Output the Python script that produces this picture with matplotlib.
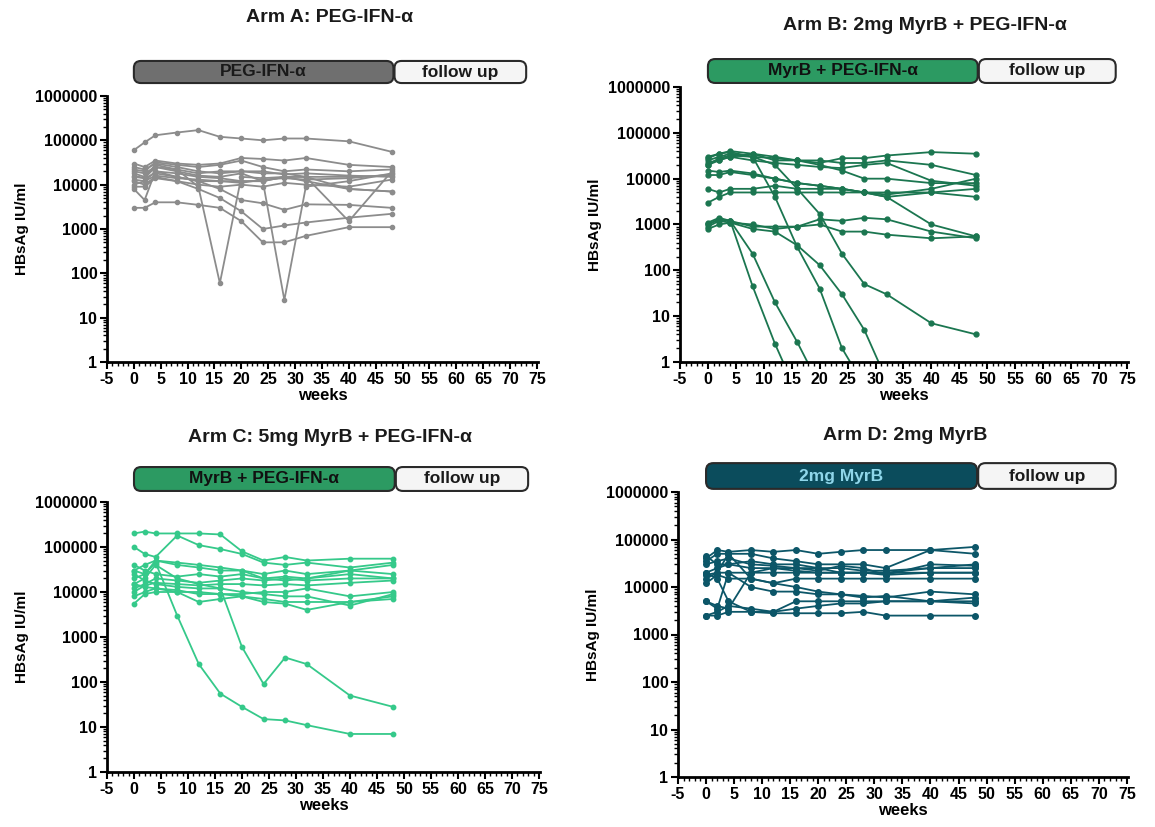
import matplotlib
matplotlib.use("Agg")
import matplotlib.pyplot as plt
from matplotlib.patches import FancyBboxPatch
from matplotlib.ticker import FixedLocator, LogLocator, NullFormatter, MultipleLocator

plt.rcParams['font.family'] = ['Liberation Sans', 'DejaVu Sans']
plt.rcParams['font.weight'] = 'bold'
plt.rcParams['axes.unicode_minus'] = False

# sampling visits (weeks)
weeks = [0, 2, 4, 8, 12, 16, 20, 24, 28, 32, 40, 48]

# HBsAg IU/ml per patient
arm_a = [
    [60000, 90000, 130000, 150000, 170000, 120000, 110000, 100000, 110000, 110000, 95000, 55000],
    [30000, 25000, 35000, 30000, 28000, 30000, 40000, 38000, 35000, 40000, 28000, 25000],
    [22000, 20000, 32000, 28000, 25000, 28000, 35000, 25000, 20000, 22000, 20000, 22000],
    [18000, 15000, 28000, 22000, 9000, 60, 15000, 14000, 15000, 15000, 15000, 16000],
    [16000, 14000, 25000, 20000, 16000, 15000, 18000, 12000, 25, 9000, 12000, 18000],
    [8000, 4500, 20000, 18000, 15000, 14000, 12000, 12000, 15000, 12000, 8000, 7000],
    [3000, 3000, 4000, 4000, 3500, 3000, 1500, 500, 500, 700, 1100, 1100],
    [12000, 10000, 15000, 12000, 8000, 5000, 2500, 1000, 1200, 1400, 1800, 2200],
    [15000, 14000, 18000, 15000, 12000, 8000, 4500, 3800, 2700, 3600, 3500, 3000],
    [20000, 18000, 25000, 22000, 18000, 20000, 20000, 18000, 18000, 15000, 1500, 20000],
    [10000, 12000, 20000, 15000, 12000, 12000, 12000, 12000, 15000, 15000, 8000, 7000],
    [25000, 22000, 30000, 25000, 20000, 18000, 20000, 20000, 17000, 18000, 16000, 15000],
    [13000, 12000, 16000, 14000, 13000, 12000, 11000, 13000, 14000, 13000, 14000, 17000],
    [9000, 9000, 14000, 12000, 10000, 9000, 10000, 9000, 11000, 10000, 9000, 13000],
]

arm_b = [
    [25000, 30000, 35000, 30000, 28000, 25000, 22000, 28000, 28000, 32000, 38000, 35000],
    [30000, 35000, 40000, 35000, 25000, 25000, 25000, 22000, 22000, 25000, 20000, 12000],
    [20000, 25000, 30000, 35000, 30000, 25000, 20000, 15000, 10000, 10000, 8000, 8000],
    [12000, 12000, 14000, 12000, 10000, 8000, 7000, 6000, 5000, 4500, 6000, 10000],
    [6000, 5000, 6000, 6000, 7000, 6000, 6000, 6000, 5000, 4000, 5000, 4000],
    [3000, 4000, 5000, 5000, 5000, 5000, 5000, 5000, 5000, 5000, 5000, 6000],
    [15000, 14000, 15000, 13000, 10000, 8000, 7000, 6000, 5000, 4000, 1000, 550],
    [20000, 28000, 32000, 30000, 20000, 6000, 1700, 230, 50, 30, 7, 4],
    [28000, 35000, 38000, 30000, 4000, 320, 40, 2, 0.3, 0.1, 0.1, 0.1],
    [1000, 1300, 1200, 45, 2.5, 0.2, 0.1, 0.1, 0.1, 0.1, 0.1, 0.1],
    [1100, 1400, 1200, 230, 20, 2.7, 0.3, 0.1, 0.1, 0.1, 0.1, 0.1],
    [900, 1200, 1100, 800, 700, 350, 130, 30, 5, 0.4, 0.1, 0.1],
    [1000, 1300, 1200, 900, 900, 900, 1300, 1200, 1400, 1300, 700, 500],
    [800, 1000, 1100, 1000, 800, 900, 1000, 700, 700, 600, 500, 550],
    [22000, 26000, 30000, 25000, 22000, 20000, 18000, 17000, 20000, 22000, 9000, 7000],
]

arm_c = [
    [200000, 220000, 200000, 200000, 200000, 190000, 80000, 50000, 60000, 50000, 55000, 55000],
    [100000, 70000, 60000, 180000, 110000, 90000, 70000, 45000, 40000, 45000, 35000, 45000],
    [30000, 40000, 50000, 45000, 40000, 35000, 30000, 20000, 18000, 20000, 30000, 40000],
    [30000, 25000, 45000, 3000, 250, 55, 28, 15, 14, 11, 7, 7],
    [15000, 20000, 40000, 20000, 15000, 12000, 600, 90, 350, 250, 50, 28],
    [20000, 25000, 50000, 40000, 35000, 30000, 30000, 25000, 30000, 25000, 30000, 25000],
    [12000, 15000, 20000, 18000, 16000, 18000, 20000, 18000, 20000, 18000, 20000, 20000],
    [10000, 14000, 16000, 15000, 14000, 15000, 15000, 14000, 15000, 14000, 16000, 18000],
    [8000, 10000, 12000, 10000, 6000, 7000, 8000, 6000, 5500, 4000, 6000, 8000],
    [5500, 9000, 10000, 10000, 10000, 9000, 8000, 7000, 6000, 6000, 6000, 7000],
    [25000, 18000, 15000, 13000, 12000, 12000, 10000, 9000, 8000, 8000, 5000, 9000],
    [40000, 30000, 25000, 22000, 25000, 22000, 25000, 20000, 22000, 20000, 25000, 20000],
    [15000, 13000, 12000, 11000, 9000, 9000, 9000, 10000, 10000, 12000, 8000, 10000],
]

arm_d = [
    [40000, 60000, 55000, 60000, 55000, 60000, 50000, 55000, 60000, 60000, 60000, 70000],
    [35000, 50000, 50000, 50000, 40000, 35000, 30000, 30000, 30000, 25000, 60000, 50000],
    [20000, 25000, 30000, 35000, 30000, 30000, 25000, 25000, 22000, 22000, 25000, 30000],
    [15000, 20000, 20000, 20000, 20000, 20000, 20000, 20000, 20000, 18000, 20000, 20000],
    [12000, 18000, 15000, 15000, 12000, 15000, 15000, 15000, 15000, 15000, 15000, 15000],
    [5000, 3500, 20000, 10000, 8000, 8000, 7000, 7000, 6500, 6000, 8000, 7000],
    [2500, 2500, 3000, 3000, 2800, 2800, 2800, 2800, 3000, 2500, 2500, 2500],
    [2500, 3000, 4000, 3500, 3000, 3500, 4000, 4500, 4500, 5000, 5000, 5000],
    [20000, 15000, 5000, 3000, 3000, 5000, 5000, 5000, 5000, 5000, 5000, 6000],
    [5000, 4000, 3500, 20000, 25000, 25000, 25000, 20000, 20000, 20000, 20000, 20000],
    [45000, 30000, 30000, 25000, 25000, 22000, 20000, 20000, 20000, 20000, 25000, 25000],
    [18000, 20000, 50000, 15000, 12000, 10000, 8000, 7000, 6000, 6500, 5000, 4500],
    [30000, 35000, 40000, 30000, 28000, 25000, 22000, 28000, 25000, 18000, 30000, 28000],
]

titles = ["Arm A: PEG-IFN-α", "Arm B: 2mg MyrB + PEG-IFN-α",
          "Arm C: 5mg MyrB + PEG-IFN-α", "Arm D: 2mg MyrB"]
phase_labels = ["PEG-IFN-α", "MyrB + PEG-IFN-α", "MyrB + PEG-IFN-α", "2mg MyrB"]
line_colors = ["#8c8c8c", "#1b7650", "#35c98a", "#0c5668"]
bar_colors = ["#6f6f6f", "#2c9a62", "#2c9a62", "#0b4c5c"]
bar_text_colors = ["#1a1a1a", "#111111", "#111111", "#8fd6ea"]
marker_sizes = [3, 3.5, 3.2, 4]
arms = [arm_a, arm_b, arm_c, arm_d]

W, H = 1155, 827
fig = plt.figure(figsize=(W / 100, H / 100), dpi=100)


def px_axes(left, top, right, bottom):
    return fig.add_axes([left / W, 1 - bottom / H, (right - left) / W, (bottom - top) / H])


# pixel boxes of each plot area: left, top, right, bottom
plot_boxes = [(107, 96, 538, 362), (680, 87, 1128, 362),
              (107, 502, 540, 772), (678, 492, 1128, 777)]
header_boxes = [(60, 84), (58, 84), (466, 492), (462, 490)]
title_pos = [(330, 17), (925, 25), (330, 437), (905, 436)]

for i in range(4):
    l, t, r, b = plot_boxes[i]
    ax = px_axes(l, t, r, b)
    for series in arms[i]:
        ax.plot(weeks, series, color=line_colors[i], lw=1.3, marker='o',
                ms=marker_sizes[i], clip_on=True)
    ax.set_yscale('log')
    ax.set_ylim(1, 1000000)
    ax.set_xlim(-5, 75.2)
    ax.set_yticks([1, 10, 100, 1000, 10000, 100000, 1000000])
    ax.set_yticklabels(['1', '10', '100', '1000', '10000', '100000', '1000000'])
    ax.yaxis.set_minor_locator(LogLocator(base=10, subs=range(2, 10), numticks=20))
    ax.yaxis.set_minor_formatter(NullFormatter())
    ax.xaxis.set_major_locator(FixedLocator(range(-5, 80, 5)))
    ax.xaxis.set_minor_locator(MultipleLocator(1))
    for side in ['top', 'right']:
        ax.spines[side].set_visible(False)
    for side in ['left', 'bottom']:
        ax.spines[side].set_linewidth(2)
    ax.tick_params(which='major', direction='out', length=5, width=1.5,
                   labelsize=11.5, pad=2)
    ax.tick_params(which='minor', direction='out', length=3, width=1)
    ax.set_xlabel('weeks', fontsize=12, fontweight='bold', labelpad=1)
    ax.set_ylabel('HBsAg IU/ml', fontsize=11, fontweight='bold', labelpad=4)

    # treatment / follow-up header bar
    ht, hb = header_boxes[i]
    hax = px_axes(l, ht, r, hb)
    hax.set_xlim(-5, 75.2)
    hax.set_ylim(0, 1)
    hax.axis('off')
    px_per_x = (r - l) / 80.2
    aspect = (1 / (hb - ht)) / (1 / px_per_x)
    for x0, x1, fc, txt, tc in [(0, 48.3, bar_colors[i], phase_labels[i], bar_text_colors[i]),
                                (48.5, 73, "#f5f5f5", "follow up", "#1a1a1a")]:
        box = FancyBboxPatch((x0, 0.04), x1 - x0, 0.92,
                             boxstyle="round,pad=0,rounding_size=1.3",
                             mutation_aspect=aspect, fc=fc, ec="#2a2a2a", lw=1.5,
                             clip_on=False)
        hax.add_patch(box)
        hax.text((x0 + x1) / 2, 0.5, txt, ha='center', va='center', fontsize=12.5,
                 fontweight='bold', color=tc)

    tx, ty = title_pos[i]
    fig.text(tx / W, 1 - ty / H, titles[i], ha='center', va='center', fontsize=14,
             fontweight='bold', color="#1a1a1a")

fig.savefig('out.png', dpi=100)
